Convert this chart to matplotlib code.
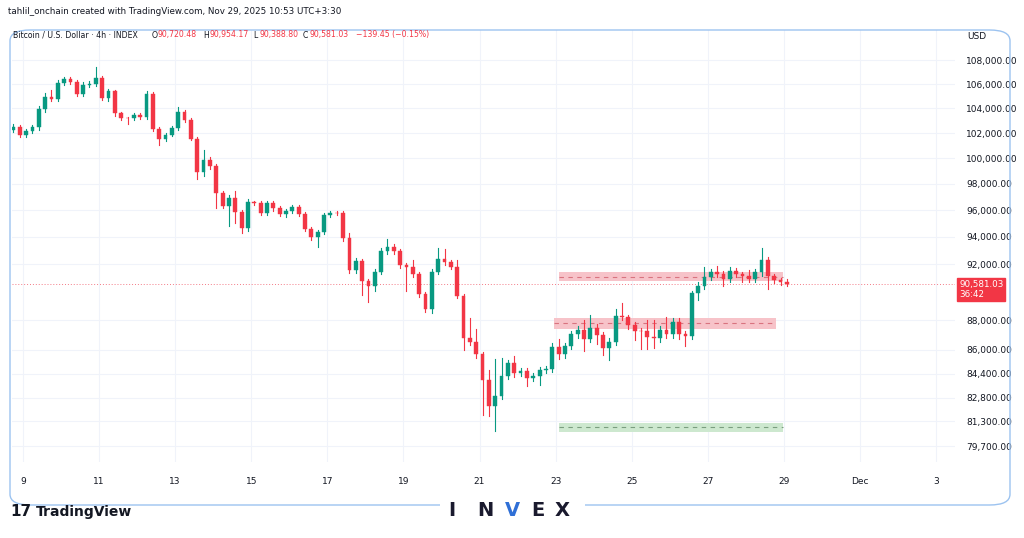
import matplotlib
matplotlib.use("Agg")
import matplotlib.pyplot as plt
from matplotlib.patches import Rectangle, FancyBboxPatch
import numpy as np

closes = [102250,102510,101850,102170,102480,103980,104930,104790,106110,106450,
          106190,105190,105950,106030,106500,104870,105400,103590,103220,103190,
          103450,103300,105190,102350,101515,101880,102405,103670,103090,101560,
          98880,99880,99360,97310,96310,96910,95865,94630,96570,96520,
          95810,96500,96125,95685,95945,96205,95730,94550,93975,94370,
          95605,95785,95740,93895,91576,92185,90750,90400,91455,92925,
          93240,92925,91930,91810,91295,89860,88800,91455,92375,92140,
          91810,89740,86800,86515,85680,83960,82290,82895,84220,85080,
          84440,84540,84115,84220,84605,84715,86210,85680,86230,87060,
          87340,86755,87460,86990,86120,86515,88280,88235,87695,87290,
          87260,86865,86800,87340,87035,87885,87035,86915,89930,90445,
          91060,91415,91275,90920,91505,91275,91155,90920,91415,92320,
          91105,90870,90720,90581.03]
first_open = 101910
upper_wick = [150,200,150,120,200,250,300,600,200,150,
              150,200,200,250,920,150,200,150,120,100,
              150,200,250,150,150,150,200,470,200,150,
              150,770,200,150,150,200,530,150,250,150,
              200,150,150,150,150,200,150,150,150,150,
              200,150,150,150,400,250,200,150,200,250,
              600,260,200,150,510,150,150,200,785,725,
              150,510,150,1370,900,150,690,2445,1250,210,
              470,200,200,200,250,200,250,545,250,200,
              250,710,940,300,250,250,540,970,165,200,
              200,790,1185,250,900,300,300,250,150,250,
              750,200,445,200,250,200,150,445,250,840,
              200,150,150,234]
lower_wick = [150,150,200,150,150,200,250,200,150,150,
              150,150,200,150,200,150,250,200,200,450,
              150,150,200,150,475,150,150,200,200,150,
              520,300,200,1185,150,1490,865,340,200,150,
              200,150,200,150,200,150,200,150,200,735,
              150,150,150,200,200,250,1000,1100,300,200,
              200,200,250,1765,200,200,200,250,200,200,
              200,200,820,200,250,2270,640,1610,200,200,
              250,200,535,200,570,200,200,280,250,200,
              250,815,250,590,510,830,200,200,250,630,
              1190,795,680,250,250,250,300,655,200,470,
              200,200,200,475,200,200,455,200,200,250,
              895,200,200,193]
price_ticks = [108000,106000,104000,102000,100000,98000,96000,94000,92000,88000,86000,84400,82800,81300,79700]
date_pos = [0,2,4,6,8,10,12,14,16,18,20,22,24]
date_labels = ["9","11","13","15","17","19","21","23","25","27","29","Dec","3"]
zones = [  # start day, end day, low, high, kind
    (14.1, 19.97, 90750, 91435, "r"),
    (13.95, 19.8, 87410, 88190, "r"),
    (14.1, 19.97, 80600, 81180, "g"),
]
last_price = 90581.03

GREEN = "#089981"; RED = "#f23645"
opens = [first_open] + closes[:-1]
t = -0.42 + np.arange(len(closes)) / 6.0

fig = plt.figure(figsize=(10.24, 5.38), dpi=100)
W, H = 1024, 538
ax = fig.add_axes([12/W, (H-462)/H, (955-12)/W, (462-30)/H])
ax.set_yscale("log")
ax.set_xlim(-0.29, 24.5)
ax.set_ylim(78720, 110620)

for p in price_ticks:
    ax.axhline(p, color="#f0f3fa", lw=0.8, zorder=0)
for d in date_pos:
    ax.axvline(d, color="#f0f3fa", lw=0.8, zorder=0)

for x0, x1, lo, hi, k in zones:
    fc = "#f7c3c9" if k == "r" else "#cde8cf"
    lc = "#d9737f" if k == "r" else "#7a9e7e"
    ax.add_patch(Rectangle((x0, lo), x1-x0, hi-lo, facecolor=fc, edgecolor="none", zorder=1))
    ax.plot([x0, x1], [np.sqrt(lo*hi)]*2, color=lc, lw=0.8, ls=(0, (4, 4)), zorder=2)

ax.axhline(last_price, color="#f37a86", lw=0.7, ls=(0, (1, 2)), zorder=2)

bw = 0.1
for i in range(len(closes)):
    o, c = opens[i], closes[i]
    col = GREEN if c >= o else RED
    top, bot = max(o, c), min(o, c)
    ax.plot([t[i], t[i]], [bot-lower_wick[i], top+upper_wick[i]], color=col, lw=0.8, zorder=3)
    h = max(top-bot, 40)
    ax.add_patch(Rectangle((t[i]-bw/2, bot), bw, h, facecolor=col, edgecolor=col, lw=0.3, zorder=4))

ax.yaxis.tick_right()
ax.set_yticks(price_ticks)
ax.set_yticklabels([f"{p:,.2f}" for p in price_ticks])
ax.yaxis.set_minor_locator(matplotlib.ticker.NullLocator())
ax.set_xticks(date_pos)
ax.set_xticklabels(date_labels)
ax.tick_params(axis="both", length=0, labelsize=6.5, labelcolor="#131722")
ax.tick_params(axis="y", pad=8)
ax.tick_params(axis="x", pad=11)
for s in ax.spines.values():
    s.set_visible(False)

ax.annotate(f"{last_price:,.2f}\n36:42", xy=(1.0, last_price), xycoords=("axes fraction", "data"),
            xytext=(3, -4), textcoords="offset points", ha="left", va="center",
            fontsize=6.3, color="white", linespacing=1.15,
            bbox=dict(boxstyle="square,pad=0.2", fc=RED, ec=RED))

fig.patches.append(FancyBboxPatch((10/W, (H-505)/H), 1000/W, 475/H,
                                  boxstyle="round,pad=0,rounding_size=0.02",
                                  transform=fig.transFigure, fill=False, ec="#9cc3f0", lw=1.0))

def ft(x, y, s, **kw):
    fig.text(x/W, 1-y/H, s, va="center", **kw)

ft(8, 12, "tahlil_onchain created with TradingView.com, Nov 29, 2025 10:53 UTC+3:30", fontsize=6.3, color="#131722")
ft(13, 35, "Bitcoin / U.S. Dollar · 4h · INDEX", fontsize=5.6, color="#131722")
for x, s, c in [(152, "O", "#131722"), (158, "90,720.48", RED), (203, "H", "#131722"), (209, "90,954.17", RED),
                (253, "L", "#131722"), (259, "90,388.80", RED), (303, "C", "#131722"), (309, "90,581.03", RED),
                (356, "−139.45 (−0.15%)", RED)]:
    ft(x, 35, s, fontsize=5.6, color=c)
ft(967, 37, "USD", fontsize=6.5, color="#131722")
ft(10, 512, "17", fontsize=11, color="#131722", fontweight="bold")
ft(36, 512, "TradingView", fontsize=10, color="#131722", fontweight="bold")
fig.patches.append(Rectangle((440/W, (H-520)/H), 145/W, 25/H, transform=fig.transFigure, fc="white", ec="none"))
for x, s, c in [(452, "I", "#1a1a2e"), (485, "N", "#1a1a2e"), (512, "V", "#2f6fd6"), (538, "E", "#1a1a2e"), (562, "X", "#1a1a2e")]:
    ft(x, 510, s, fontsize=14, color=c, fontweight="bold", ha="center")

fig.savefig("out.png", dpi=100, facecolor="white")
